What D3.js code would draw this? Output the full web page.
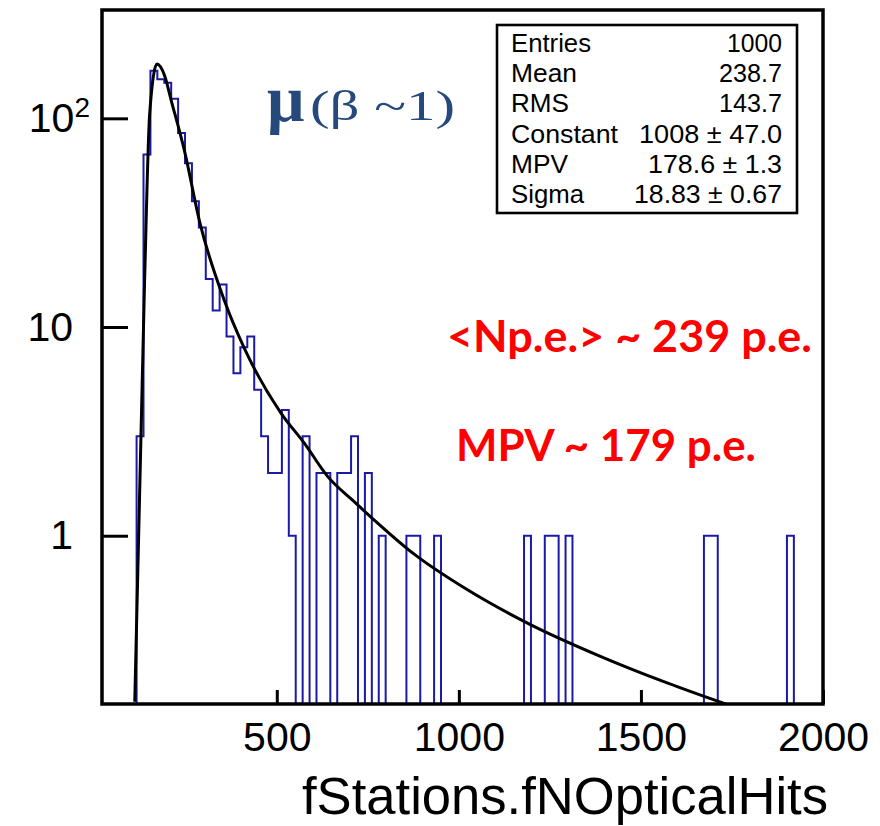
<!DOCTYPE html>
<html><head><meta charset="utf-8">
<script src="https://cdn.jsdelivr.net/npm/d3@7"></script>
<style>body{margin:0;background:#fff}</style>
</head><body><svg id="c" width="880" height="826"></svg>
<script>
// ---------- data ----------
const binLow = 20;
const binWidth = 19;
const counts = [
  0,0,0,0,0, 3,67,169,154,148,
  124,85,61,40,30, 17,12,16,9,6,
  8,9,5,3,2, 2,4,1,0,3,
  0,2,2,0,2, 2,3,0,2,0,
  1,0,0,0,1, 1,0,0,1,0,
  0,0,0,0,0, 0,0,0,0,0,
  0,1,0,0,1, 1,0,1,0,0,
  0,0,0,0,0, 0,0,0,0,0,
  0,0,0,0,0, 0,0,1,1,0,
  0,0,0,0,0, 0,0,0,0,1
];
// fitted Landau curve
const curveX = [110,137,151,171,192,210,247,288,356,411,512,576,640,708,741,880,1018,1202,1387,1572,1747];
const curveY = [0.16,16.8,105.7,182,160,122,69.2,32.0,13.4,7.9,3.86,2.77,1.92,1.48,1.31,0.809,0.558,0.371,0.265,0.197,0.153];
const xTickValues = [500,1000,1500,2000];
const yTickValues = [1,10,100];
const statLabels = ["Entries","Mean","RMS","Constant","MPV","Sigma"];
const statValues = ["1000","238.7","143.7","1008 \u00b1 47.0","178.6 \u00b1 1.3","18.83 \u00b1 0.67"];
const xTitle = "fStations.fNOpticalHits";
const annotations = ["<Np.e.> ~ 239 p.e.", "MPV ~ 179 p.e."];

// ---------- layout ----------
const svg = d3.select("#c");
const L = 102, R = 823, T = 10, B = 704;
const xDomain = [20, 2000];
const yDomain = [0.1562, 330.4];
const x = d3.scaleLinear().domain(xDomain).range([L, R]);
const y = d3.scaleLog().domain(yDomain).range([B, T]);
const FONT = "'Liberation Sans', Arial, Helvetica, sans-serif";

svg.append("defs").append("clipPath").attr("id","clip")
  .append("rect").attr("x",L).attr("y",T).attr("width",R-L).attr("height",B-T);

// histogram
const histPts = counts.map((c,i)=>[binLow + i*binWidth, c > 0 ? c : yDomain[0]]);
histPts.push([binLow + counts.length*binWidth, yDomain[0]]);
histPts.unshift([binLow, yDomain[0]]);
const histLine = d3.line().x(d=>x(d[0])).y(d=>y(d[1])).curve(d3.curveStepAfter);
svg.append("path").attr("clip-path","url(#clip)")
  .attr("d", histLine(histPts))
  .attr("fill","none").attr("stroke","#1a1aa6").attr("stroke-width",2);

// fit curve
const fitLine = d3.line().x((d,i)=>x(curveX[i])).y((d,i)=>y(curveY[i])).curve(d3.curveMonotoneX);
svg.append("path").attr("clip-path","url(#clip)")
  .attr("d", fitLine(curveX))
  .attr("fill","none").attr("stroke","#000").attr("stroke-width",3);

// x axis
const minorX = d3.range(100, 2001, 100).filter(v => !xTickValues.includes(v));
const gx = svg.append("g").attr("transform",`translate(0,${B})`);
gx.call(d3.axisBottom(x).tickValues(minorX).tickSize(-7).tickFormat(""));
gx.call(d3.axisBottom(x).tickValues(xTickValues).tickSize(-14).tickPadding(18).tickFormat(d3.format("d")));
gx.select(".domain").remove();
gx.selectAll("line").attr("stroke","#000").attr("stroke-width",3);
gx.selectAll("text").attr("font-family",FONT).attr("font-size",41).attr("fill","#000");

// y axis
const minorY = [];
[0.1,1,10,100].forEach(d => { for (let k=2;k<=9;k++){ const v=d*k; if (v>yDomain[0] && v<yDomain[1]) minorY.push(v);} });
const gy = svg.append("g").attr("transform",`translate(${L},0)`);
gy.call(d3.axisLeft(y).tickValues(minorY).tickSize(-13).tickFormat(""));
gy.call(d3.axisLeft(y).tickValues(yTickValues).tickSize(-26).tickPadding(29).tickFormat(d => d===100 ? "" : String(d)));
gy.select(".domain").remove();
gy.selectAll("line").attr("stroke","#000").attr("stroke-width",3);
gy.selectAll("text").attr("font-family",FONT).attr("font-size",41).attr("fill","#000");
gy.selectAll(".tick").filter(d => d===100).select("text")
  .attr("x",-12)
  .call(t => { t.append("tspan").text("10"); t.append("tspan").attr("font-size",28).attr("dy","-0.55em").text("2"); });

// frame
svg.append("rect").attr("x",L).attr("y",T).attr("width",R-L).attr("height",B-T)
  .attr("fill","none").attr("stroke","#000").attr("stroke-width",3.5);

// x title
svg.append("text").attr("x",302).attr("y",814)
  .attr("font-family",FONT).attr("font-size",51).attr("fill","#000")
  .attr("textLength",526).attr("lengthAdjust","spacingAndGlyphs").text(xTitle);

// stats box
svg.append("rect").attr("x",497).attr("y",25).attr("width",300).attr("height",188)
  .attr("fill","#fff").attr("stroke","#000").attr("stroke-width",2.6);
const labelW = [80,66,58,107,57,73];
const valueW = [55,63,63,143,134,148];
statLabels.forEach((s,i)=>{
  svg.append("text").attr("x",511).attr("y",52+i*30.2).attr("font-family",FONT).attr("font-size",25)
    .attr("textLength",labelW[i]).attr("lengthAdjust","spacingAndGlyphs").text(s);
  svg.append("text").attr("x",782-valueW[i]).attr("y",52+i*30.2).attr("font-family",FONT).attr("font-size",25)
    .attr("textLength",valueW[i]).attr("lengthAdjust","spacingAndGlyphs").text(statValues[i]);
});

// mu label
svg.append("text").attr("x",267).attr("y",121).attr("fill","#24497a")
  .attr("font-family","'Liberation Serif', 'DejaVu Serif', serif")
  .attr("font-size",66).attr("font-weight","bold").text("\u03bc");
svg.append("text").attr("x",310).attr("y",120).attr("fill","#24497a")
  .attr("font-family","'Liberation Serif', 'DejaVu Serif', serif")
  .attr("font-size",42).attr("textLength",145).attr("lengthAdjust","spacingAndGlyphs").text("(\u03b2 ~1)");

// red annotations
svg.append("text").attr("x",447).attr("y",352).attr("font-family","Lato, 'Open Sans', sans-serif")
  .attr("font-weight","bold").attr("font-size",43).attr("fill","#ff0000")
  .attr("textLength",365).attr("lengthAdjust","spacingAndGlyphs").text(annotations[0]);
svg.append("text").attr("x",456).attr("y",461).attr("font-family","Lato, 'Open Sans', sans-serif")
  .attr("font-weight","bold").attr("font-size",43).attr("fill","#ff0000")
  .attr("textLength",300).attr("lengthAdjust","spacingAndGlyphs").text(annotations[1]);
</script></body></html>
